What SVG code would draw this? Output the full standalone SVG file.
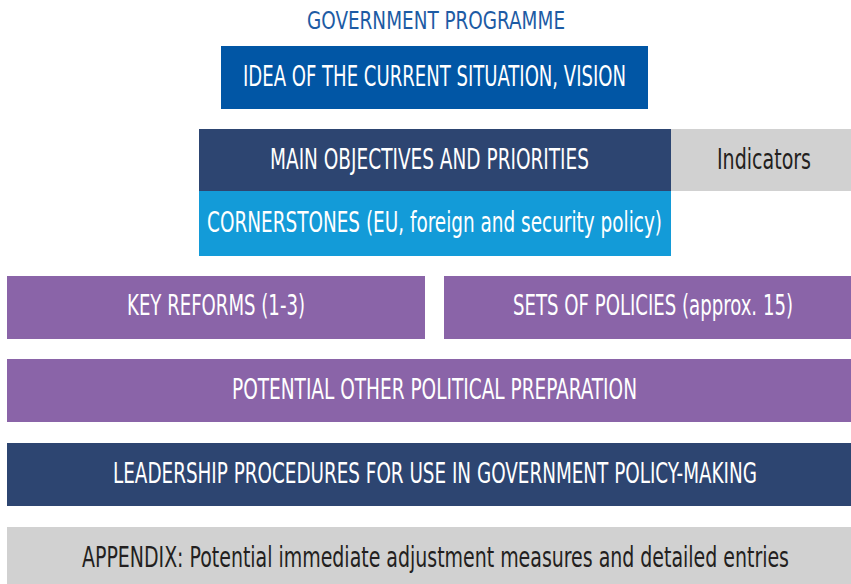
<svg xmlns="http://www.w3.org/2000/svg" width="851" height="584" viewBox="0 0 851 584">
  <style>
    text { font-family: "DejaVu Sans Condensed", "Liberation Sans", sans-serif; font-stretch: condensed; font-size: 22px; text-anchor: middle; }
    .light { fill: #ffffff; }
    .dark { fill: #231f20; }
    .title { fill: #1d5ba4; font-size: 20px; }
    .blue { fill: #0156a5; }
    .navy { fill: #2d4571; }
    .cyan { fill: #139bd8; }
    .purple { fill: #8a64a8; }
    .grey { fill: #d1d1d1; }
  </style>
  <rect width="851" height="584" fill="#ffffff"/>

  <!-- labels use a tall, narrow face: glyphs are stretched vertically about their baseline -->
  <g id="title">
    <text class="title" transform="translate(436,28.5) scale(1,1.25)" textLength="258" lengthAdjust="spacingAndGlyphs">GOVERNMENT PROGRAMME</text>
  </g>

  <g id="vision">
    <rect class="blue" x="221" y="46" width="427" height="63"/>
    <text class="light" transform="translate(434.5,85.5) scale(1,1.25)" textLength="383" lengthAdjust="spacingAndGlyphs">IDEA OF THE CURRENT SITUATION, VISION</text>
  </g>

  <g id="objectives">
    <rect class="navy" x="199" y="129" width="472" height="62"/>
    <text class="light" transform="translate(429.5,169) scale(1,1.25)" textLength="319" lengthAdjust="spacingAndGlyphs">MAIN OBJECTIVES AND PRIORITIES</text>
  </g>

  <g id="indicators">
    <rect class="grey" x="671" y="129" width="180" height="62"/>
    <text class="dark" transform="translate(764,169) scale(1,1.25)" textLength="94" lengthAdjust="spacingAndGlyphs">Indicators</text>
  </g>

  <g id="cornerstones">
    <rect class="cyan" x="199" y="191" width="472" height="65"/>
    <text class="light" transform="translate(434.5,232) scale(1,1.25)" textLength="455" lengthAdjust="spacingAndGlyphs">CORNERSTONES (EU, foreign and security policy)</text>
  </g>

  <g id="key-reforms">
    <rect class="purple" x="7" y="276" width="418" height="63"/>
    <text class="light" transform="translate(216,315) scale(1,1.25)" textLength="178" lengthAdjust="spacingAndGlyphs">KEY REFORMS (1-3)</text>
  </g>

  <g id="policy-sets">
    <rect class="purple" x="444" y="276" width="407" height="63"/>
    <text class="light" transform="translate(653,315) scale(1,1.25)" textLength="280" lengthAdjust="spacingAndGlyphs">SETS OF POLICIES (approx. 15)</text>
  </g>

  <g id="other-preparation">
    <rect class="purple" x="7" y="359" width="844" height="63"/>
    <text class="light" transform="translate(434.5,399) scale(1,1.25)" textLength="405" lengthAdjust="spacingAndGlyphs">POTENTIAL OTHER POLITICAL PREPARATION</text>
  </g>

  <g id="leadership">
    <rect class="navy" x="7" y="443" width="844" height="63"/>
    <text class="light" transform="translate(435,483) scale(1,1.25)" textLength="644" lengthAdjust="spacingAndGlyphs">LEADERSHIP PROCEDURES FOR USE IN GOVERNMENT POLICY-MAKING</text>
  </g>

  <g id="appendix">
    <rect class="grey" x="7" y="527" width="844" height="57"/>
    <text class="dark" transform="translate(435.5,567) scale(1,1.25)" textLength="707" lengthAdjust="spacingAndGlyphs">APPENDIX: Potential immediate adjustment measures and detailed entries</text>
  </g>

  <g id="connectors"/>
</svg>
